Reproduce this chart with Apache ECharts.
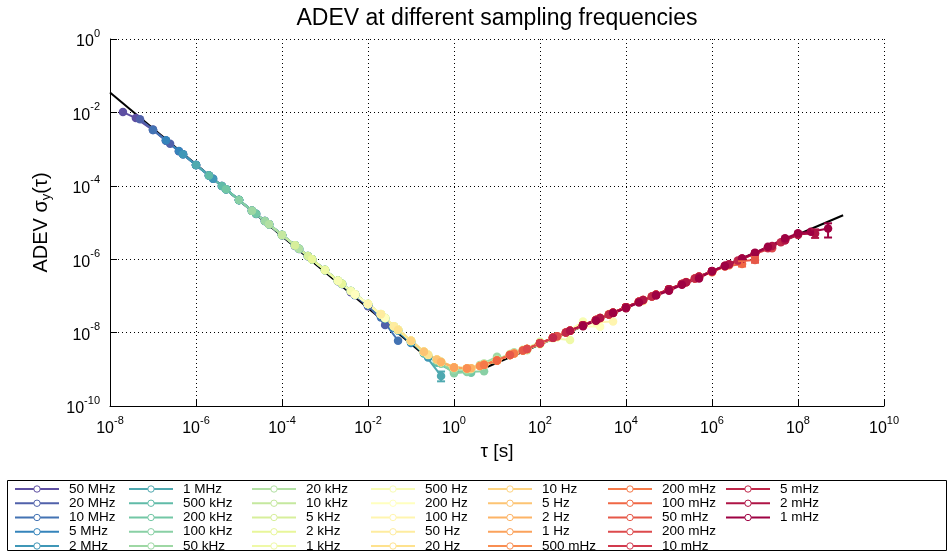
<!DOCTYPE html>
<html>
<head>
<meta charset="utf-8">
<script src="https://cdn.jsdelivr.net/npm/echarts@6/dist/echarts.min.js"></script>
<style>html,body{margin:0;padding:0;background:#fff}#chart{width:948px;height:554px}</style>
</head>
<body>
<div id="chart"></div>
<script>
// ---------------- data ----------------
const seriesNames = ['50 MHz','20 MHz','10 MHz','5 MHz','2 MHz','1 MHz','500 kHz','200 kHz','100 kHz','50 kHz',
  '20 kHz','10 kHz','5 kHz','2 kHz','1 kHz','500 Hz','200 Hz','100 Hz','50 Hz','20 Hz',
  '10 Hz','5 Hz','2 Hz','1 Hz','500 mHz','200 mHz','100 mHz','50 mHz','200 mHz','10 mHz',
  '5 mHz','2 mHz','1 mHz'];
const sampleRates = [5e7,2e7,1e7,5e6,2e6,1e6,5e5,2e5,1e5,5e4,2e4,1e4,5e3,2e3,1e3,500,200,100,50,20,10,5,2,1,0.5,0.2,0.1,0.05,0.02,0.01,0.005,0.002,0.001];
// averaging factors m (tau = m / fs)
const tauSteps = [1,2,5,10,20,50,100,200,500,1e3,2e3,5e3,1e4,2e4,5e4,1e5,2e5,5e5];

const adev_50MHz  = [1.02e-2,7.0e-3,3.3e-3,1.7e-3,8.8e-4,3.7e-4,1.9e-4,9.9e-5,4.1e-5,2.1e-5,1.1e-5,4.5e-6,2.3e-6,1.2e-6,5.0e-7,2.5e-7,1.25e-7,5.2e-8];
const adev_20MHz  = [6.5e-3,3.4e-3,1.4e-3,7.2e-4,3.7e-4,1.55e-4,8.0e-5,4.1e-5,1.7e-5,8.9e-6,4.6e-6,1.9e-6,9.9e-7,5.1e-7,2.1e-7,1.08e-7,5.6e-8,1.6e-8];
const adev_10MHz  = [3.3e-3,1.72e-3,7.2e-4,3.7e-4,1.9e-4,8.0e-5,4.1e-5,2.1e-5,8.9e-6,4.6e-6,2.4e-6,9.9e-7,5.1e-7,2.6e-7,1.05e-7,5.5e-8,2.6e-8,6.0e-9];
const adev_5MHz   = [1.73e-3,8.9e-4,3.7e-4,1.92e-4,9.9e-5,4.1e-5,2.1e-5,1.1e-5,4.6e-6,2.4e-6,1.23e-6,5.1e-7,2.6e-7,1.35e-7,5.9e-8,3.0e-8,1.35e-8,5.2e-9];
const adev_2MHz   = [7.2e-4,3.7e-4,1.55e-4,8.0e-5,4.1e-5,1.73e-5,8.9e-6,4.6e-6,1.92e-6,9.9e-7,5.1e-7,2.1e-7,1.1e-7,5.9e-8,2.4e-8,1.15e-8,5.6e-9,2.1e-9];
const adev_1MHz   = [3.7e-4,1.92e-4,8.0e-5,4.1e-5,2.1e-5,8.9e-6,4.6e-6,2.4e-6,9.9e-7,5.1e-7,2.6e-7,1.1e-7,6.0e-8,3.1e-8,1.15e-8,5.7e-9,2.7e-9,6.6e-10];
const adev_500kHz = [1.92e-4,9.9e-5,4.1e-5,2.1e-5,1.1e-5,4.6e-6,2.4e-6,1.23e-6,5.1e-7,2.6e-7,1.35e-7,6.0e-8,3.1e-8,1.45e-8,5.8e-9,2.8e-9,1.5e-9,8.5e-10];
const adev_200kHz = [8.0e-5,4.1e-5,1.73e-5,8.9e-6,4.6e-6,1.92e-6,9.9e-7,5.1e-7,2.13e-7,1.1e-7,6.0e-8,2.5e-8,1.2e-8,5.9e-9,2.4e-9,1.45e-9,9.0e-10,8.0e-10];
const adev_100kHz = [4.1e-5,2.1e-5,8.9e-6,4.6e-6,2.4e-6,9.9e-7,5.1e-7,2.6e-7,1.1e-7,6.0e-8,3.1e-8,1.2e-8,5.9e-9,2.9e-9,1.45e-9,7.8e-10,8.5e-10,8.9e-10];
const adev_50kHz  = [2.1e-5,1.1e-5,4.6e-6,2.4e-6,1.23e-6,5.1e-7,2.6e-7,1.36e-7,6.0e-8,3.1e-8,1.5e-8,5.9e-9,2.9e-9,1.7e-9,9.8e-10,9.5e-10,1.3e-9,2.2e-9];
const adev_20kHz  = [8.9e-6,4.6e-6,1.92e-6,9.9e-7,5.1e-7,2.13e-7,1.1e-7,6.0e-8,2.5e-8,1.2e-8,6.0e-9,2.5e-9,1.6e-9,1.1e-9,1.0e-9,1.45e-9,1.9e-9,2.9e-9];
const adev_10kHz  = [4.6e-6,2.4e-6,9.9e-7,5.1e-7,2.6e-7,1.1e-7,6.0e-8,3.1e-8,1.2e-8,6.0e-9,3.0e-9,1.6e-9,1.1e-9,1.02e-9,1.4e-9,1.8e-9,2.6e-9,3.3e-9];
const adev_5kHz   = [2.4e-6,1.23e-6,5.1e-7,2.6e-7,1.36e-7,6.0e-8,3.2e-8,1.5e-8,6.1e-9,3.0e-9,1.85e-9,1.1e-9,1.05e-9,1.25e-9,1.75e-9,2.5e-9,3.4e-9,5.6e-9];
const adev_2kHz   = [9.9e-7,5.1e-7,2.13e-7,1.1e-7,6.0e-8,2.5e-8,1.2e-8,6.0e-9,2.5e-9,1.58e-9,1.12e-9,1.07e-9,1.3e-9,1.75e-9,2.7e-9,3.5e-9,4.8e-9,7.5e-9];
const adev_1kHz   = [5.1e-7,2.6e-7,1.1e-7,6.0e-8,3.15e-8,1.2e-8,6.0e-9,3.0e-9,1.58e-9,1.12e-9,1.05e-9,1.32e-9,1.74e-9,2.45e-9,3.6e-9,5.1e-9,7.0e-9,6.3e-9];
const adev_500Hz  = [2.6e-7,1.36e-7,6.0e-8,3.2e-8,1.5e-8,6.0e-9,3.0e-9,1.86e-9,1.12e-9,1.05e-9,1.23e-9,1.74e-9,2.45e-9,3.25e-9,5.1e-9,7.2e-9,1.0e-8,2.0e-8];
const adev_200Hz  = [1.1e-7,6.0e-8,2.5e-8,1.2e-8,6.0e-9,2.5e-9,1.58e-9,1.12e-9,1.07e-9,1.32e-9,1.74e-9,2.7e-9,3.6e-9,5.1e-9,8.0e-9,1.1e-8,1.5e-8,1.45e-8];
const adev_100Hz  = [6.0e-8,3.15e-8,1.2e-8,6.0e-9,3.0e-9,1.58e-9,1.12e-9,1.05e-9,1.32e-9,1.74e-9,2.45e-9,3.6e-9,5.1e-9,7.2e-9,1.13e-8,1.55e-8,1.9e-8,2.0e-8];
const adev_50Hz   = [3.15e-8,1.5e-8,6.0e-9,3.0e-9,1.86e-9,1.12e-9,1.05e-9,1.23e-9,1.74e-9,2.45e-9,3.25e-9,5.1e-9,7.2e-9,1.0e-8,1.6e-8,2.2e-8,3.2e-8,4.6e-8];
const adev_20Hz   = [1.2e-8,6.0e-9,2.5e-9,1.58e-9,1.12e-9,1.07e-9,1.32e-9,1.74e-9,2.7e-9,3.6e-9,5.1e-9,8.0e-9,1.13e-8,1.58e-8,2.5e-8,3.5e-8,4.9e-8,7.3e-8];
const adev_10Hz   = [6.0e-9,3.0e-9,1.58e-9,1.12e-9,1.05e-9,1.32e-9,1.74e-9,2.45e-9,3.6e-9,5.1e-9,7.2e-9,1.13e-8,1.58e-8,2.2e-8,3.5e-8,4.9e-8,6.9e-8,1.1e-7];
const adev_5Hz    = [3.0e-9,1.86e-9,1.12e-9,1.05e-9,1.23e-9,1.74e-9,2.45e-9,3.25e-9,5.1e-9,7.2e-9,1.01e-8,1.58e-8,2.2e-8,3.1e-8,4.9e-8,6.9e-8,9.7e-8,1.5e-7];
const adev_2Hz    = [1.58e-9,1.12e-9,1.07e-9,1.32e-9,1.74e-9,2.7e-9,3.6e-9,5.1e-9,8.0e-9,1.13e-8,1.58e-8,2.5e-8,3.5e-8,4.9e-8,7.7e-8,1.08e-7,1.5e-7,2.4e-7];
const adev_1Hz    = [1.12e-9,1.05e-9,1.32e-9,1.74e-9,2.45e-9,3.6e-9,5.1e-9,7.2e-9,1.13e-8,1.58e-8,2.2e-8,3.5e-8,4.9e-8,6.9e-8,1.08e-7,1.51e-7,2.1e-7,3.4e-7];
const adev_500mHz = [1.05e-9,1.23e-9,1.74e-9,2.45e-9,3.25e-9,5.1e-9,7.2e-9,1.01e-8,1.58e-8,2.2e-8,3.1e-8,4.9e-8,6.9e-8,9.7e-8,1.51e-7,2.1e-7,3.0e-7,4.4e-7];
const adev_200mHz = [1.32e-9,1.74e-9,2.7e-9,3.6e-9,5.1e-9,8.0e-9,1.13e-8,1.58e-8,2.5e-8,3.5e-8,4.9e-8,7.7e-8,1.08e-7,1.51e-7,2.37e-7,3.3e-7,4.7e-7,6.8e-7];
const adev_100mHz = [1.74e-9,2.45e-9,3.6e-9,5.1e-9,7.2e-9,1.13e-8,1.58e-8,2.2e-8,3.5e-8,4.9e-8,6.9e-8,1.08e-7,1.51e-7,2.12e-7,3.3e-7,4.5e-7,6.3e-7,7.4e-7];
const adev_50mHz  = [2.45e-9,3.25e-9,5.1e-9,7.2e-9,1.01e-8,1.58e-8,2.2e-8,3.1e-8,4.9e-8,6.9e-8,9.7e-8,1.51e-7,2.12e-7,3.0e-7,4.6e-7,6.4e-7,8.8e-7,9.5e-7];
const adev_20mHz  = [3.6e-9,5.1e-9,8.0e-9,1.13e-8,1.58e-8,2.5e-8,3.5e-8,4.9e-8,7.7e-8,1.08e-7,1.51e-7,2.37e-7,3.3e-7,4.7e-7,7.3e-7,1.03e-6,1.4e-6,2.0e-6];
const adev_10mHz  = [5.1e-9,7.2e-9,1.13e-8,1.58e-8,2.2e-8,3.5e-8,4.9e-8,6.9e-8,1.08e-7,1.51e-7,2.12e-7,3.3e-7,4.7e-7,6.6e-7,1.03e-6,1.45e-6,2.0e-6,3.3e-6];
const adev_5mHz   = [7.2e-9,1.01e-8,1.58e-8,2.2e-8,3.1e-8,4.9e-8,6.9e-8,9.7e-8,1.51e-7,2.12e-7,3.0e-7,4.7e-7,6.6e-7,9.2e-7,1.45e-6,2.05e-6,2.9e-6,4.6e-6];
const adev_2mHz   = [1.13e-8,1.58e-8,2.5e-8,3.5e-8,4.9e-8,7.7e-8,1.08e-7,1.51e-7,2.37e-7,3.3e-7,4.7e-7,7.3e-7,1.03e-6,1.45e-6,2.3e-6,3.3e-6,4.8e-6,5.0e-6];
const adev_1mHz   = [1.5e-8,2.1e-8,3.4e-8,4.6e-8,6.6e-8,1.02e-7,1.38e-7,2.0e-7,3.0e-7,4.8e-7,6.5e-7,1.05e-6,1.5e-6,2.2e-6,3.7e-6,5.1e-6,5.6e-6,6.9e-6];

const adevValues = [adev_50MHz,adev_20MHz,adev_10MHz,adev_5MHz,adev_2MHz,adev_1MHz,adev_500kHz,adev_200kHz,adev_100kHz,adev_50kHz,
  adev_20kHz,adev_10kHz,adev_5kHz,adev_2kHz,adev_1kHz,adev_500Hz,adev_200Hz,adev_100Hz,adev_50Hz,adev_20Hz,
  adev_10Hz,adev_5Hz,adev_2Hz,adev_1Hz,adev_500mHz,adev_200mHz,adev_100mHz,adev_50mHz,adev_20mHz,adev_10mHz,
  adev_5mHz,adev_2mHz,adev_1mHz];

// black reference lines (two segments)
const fitLeftTau  = [1e-8, 0.2];
const fitLeftAdev = [3.47e-2, 2.5e-9];
const fitRightTau  = [5, 1.12e9];
const fitRightAdev = [1.07e-9, 1.58e-5];

// error bars
const errSeriesIndex = [5, 26, 27, 31, 32];
const errTau  = [0.5, 5e6, 1e7, 2.5e8, 5e8];
const errLow  = [4.7e-10, 6.3e-7, 8.0e-7, 3.8e-6, 3.9e-6];
const errHigh = [8.7e-10, 8.8e-7, 1.15e-6, 6.5e-6, 9.5e-6];

// ---------------- style ----------------
const FONT = 'Liberation Sans, Arial, Helvetica, sans-serif';
const spectral = ['#5e4fa2','#3288bd','#66c2a5','#abdda4','#e6f598','#ffffbf','#fee08b','#fdae61','#f46d43','#d53e4f','#9e0142'];
function hex2rgb(h){return [parseInt(h.slice(1,3),16),parseInt(h.slice(3,5),16),parseInt(h.slice(5,7),16)];}
function cmap(i, n){
  const t = i/(n-1)*(spectral.length-1);
  const k = Math.min(Math.floor(t), spectral.length-2), f = t-k;
  const a = hex2rgb(spectral[k]), b = hex2rgb(spectral[k+1]);
  const c = a.map((v,j)=>Math.round(v+(b[j]-v)*f));
  return 'rgb('+c.join(',')+')';
}
const colors = seriesNames.map((_,i)=>cmap(i, seriesNames.length));
// make duplicate legend names unique for the library (trailing space is invisible)
const uniqueNames = seriesNames.map((n,i)=> seriesNames.indexOf(n) < i ? n + ' ' : n);

function expLabel(v){
  const e = Math.round(Math.log10(v));
  return '{b|10}{s|' + e + '}';
}
const labelRich = {
  b: {fontSize: 16, fontFamily: FONT, color: '#000', lineHeight: 22, verticalAlign: 'bottom'},
  s: {fontSize: 11, fontFamily: FONT, color: '#000', lineHeight: 8, verticalAlign: 'top'}
};

const series = [];
series.push({type:'line', data: fitLeftTau.map((t,i)=>[t, fitLeftAdev[i]]), symbol:'none', silent:true,
  lineStyle:{color:'#000', width:2}, z:1, animation:false});
series.push({type:'line', data: fitRightTau.map((t,i)=>[t, fitRightAdev[i]]), symbol:'none', silent:true,
  lineStyle:{color:'#000', width:2}, z:1, animation:false});
adevValues.forEach((vals, i) => {
  series.push({
    type:'line', name: uniqueNames[i],
    data: vals.map((v,j)=>[tauSteps[j]/sampleRates[i], v]),
    symbol:'circle', symbolSize:8.5, showSymbol:true,
    lineStyle:{color: colors[i], width:2},
    itemStyle:{color: colors[i]},
    z:2, animation:false
  });
});
series.push({
  type:'custom', z:3, silent:true, animation:false,
  data: errTau.map((t,i)=>[t, errLow[i], errHigh[i], errSeriesIndex[i]]),
  renderItem: function(params, api){
    const c = colors[api.value(3)];
    const p1 = api.coord([api.value(0), api.value(1)]);
    const p2 = api.coord([api.value(0), api.value(2)]);
    const w = 4;
    const st = {stroke: c, lineWidth: 2};
    return {type:'group', children:[
      {type:'line', shape:{x1:p1[0], y1:p1[1], x2:p2[0], y2:p2[1]}, style: st},
      {type:'line', shape:{x1:p1[0]-w, y1:p1[1], x2:p1[0]+w, y2:p1[1]}, style: st},
      {type:'line', shape:{x1:p2[0]-w, y1:p2[1], x2:p2[0]+w, y2:p2[1]}, style: st}
    ]};
  }
});

// legend: 7 columns of 5 items
const legendLefts = [14, 128, 251, 370, 487, 607, 725];
const legends = legendLefts.map((x, c) => ({
  data: uniqueNames.slice(c*5, c*5+5).map((n, k) => ({
    name: n,
    itemStyle: {color: '#fff', borderColor: colors[c*5+k], borderWidth: 1}
  })),
  orient: 'vertical', left: x, top: 482, padding: 0,
  itemWidth: 44, itemHeight: 8, itemGap: 0.25,
  selectedMode: false,
  textStyle: {fontSize: 13.5, fontFamily: FONT, color: '#000', lineHeight: 14, padding: [0,0,0,5]}
}));

const chart = echarts.init(document.getElementById('chart'), null, {renderer:'canvas'});
chart.setOption({
  animation: false,
  backgroundColor: '#fff',
  title: {text: 'ADEV at different sampling frequencies', left: 497, textAlign: 'center', top: 7, padding: 0,
    textStyle: {fontSize: 23, fontWeight: 'normal', fontFamily: FONT, color: '#000'}},
  grid: {left: 110, right: 64, top: 39, bottom: 148, containLabel: false},
  legend: legends,
  xAxis: {
    type: 'log', logBase: 100, min: 1e-8, max: 1e10,
    name: 'τ [s]', nameLocation: 'middle', nameGap: 35,
    nameTextStyle: {fontSize: 19, fontFamily: FONT, color: '#000'},
    axisLine: {show: true, lineStyle: {color: '#000', width: 1}},
    axisTick: {show: true, inside: true, length: 7, lineStyle: {color: '#000'}},
    minorTick: {show: false},
    axisLabel: {formatter: expLabel, rich: labelRich, margin: 9, color: '#000'},
    splitLine: {show: true, lineStyle: {color: '#000', width: 1, type: [1, 3]}}
  },
  yAxis: {
    type: 'log', logBase: 100, min: 1e-10, max: 1,
    name: '{a|ADEV σ}{c|y}{a|(τ)}', nameLocation: 'middle', nameGap: 57, nameRotate: 90,
    nameTextStyle: {color: '#000', rich: {
      a: {fontSize: 20, fontFamily: FONT, color: '#000', lineHeight: 22, verticalAlign: 'top'},
      c: {fontSize: 13, fontFamily: FONT, color: '#000', lineHeight: 12, verticalAlign: 'bottom'}
    }},
    axisLine: {show: true, lineStyle: {color: '#000', width: 1}},
    axisTick: {show: true, inside: true, length: 7, lineStyle: {color: '#000'}},
    minorTick: {show: false},
    axisLabel: {formatter: expLabel, rich: labelRich, margin: 10, color: '#000'},
    splitLine: {show: true, lineStyle: {color: '#000', width: 1, type: [1, 3]}}
  },
  graphic: [
    {type: 'rect', z: 100, silent: true, shape: {x: 7.5, y: 480.5, width: 939, height: 70},
      style: {fill: 'none', stroke: '#000', lineWidth: 1}},
    {type: 'rect', z: 99, silent: true, shape: {x: 0, y: 551, width: 948, height: 3},
      style: {fill: '#fff'}}
  ],
  series: series
});
</script>
</body>
</html>
